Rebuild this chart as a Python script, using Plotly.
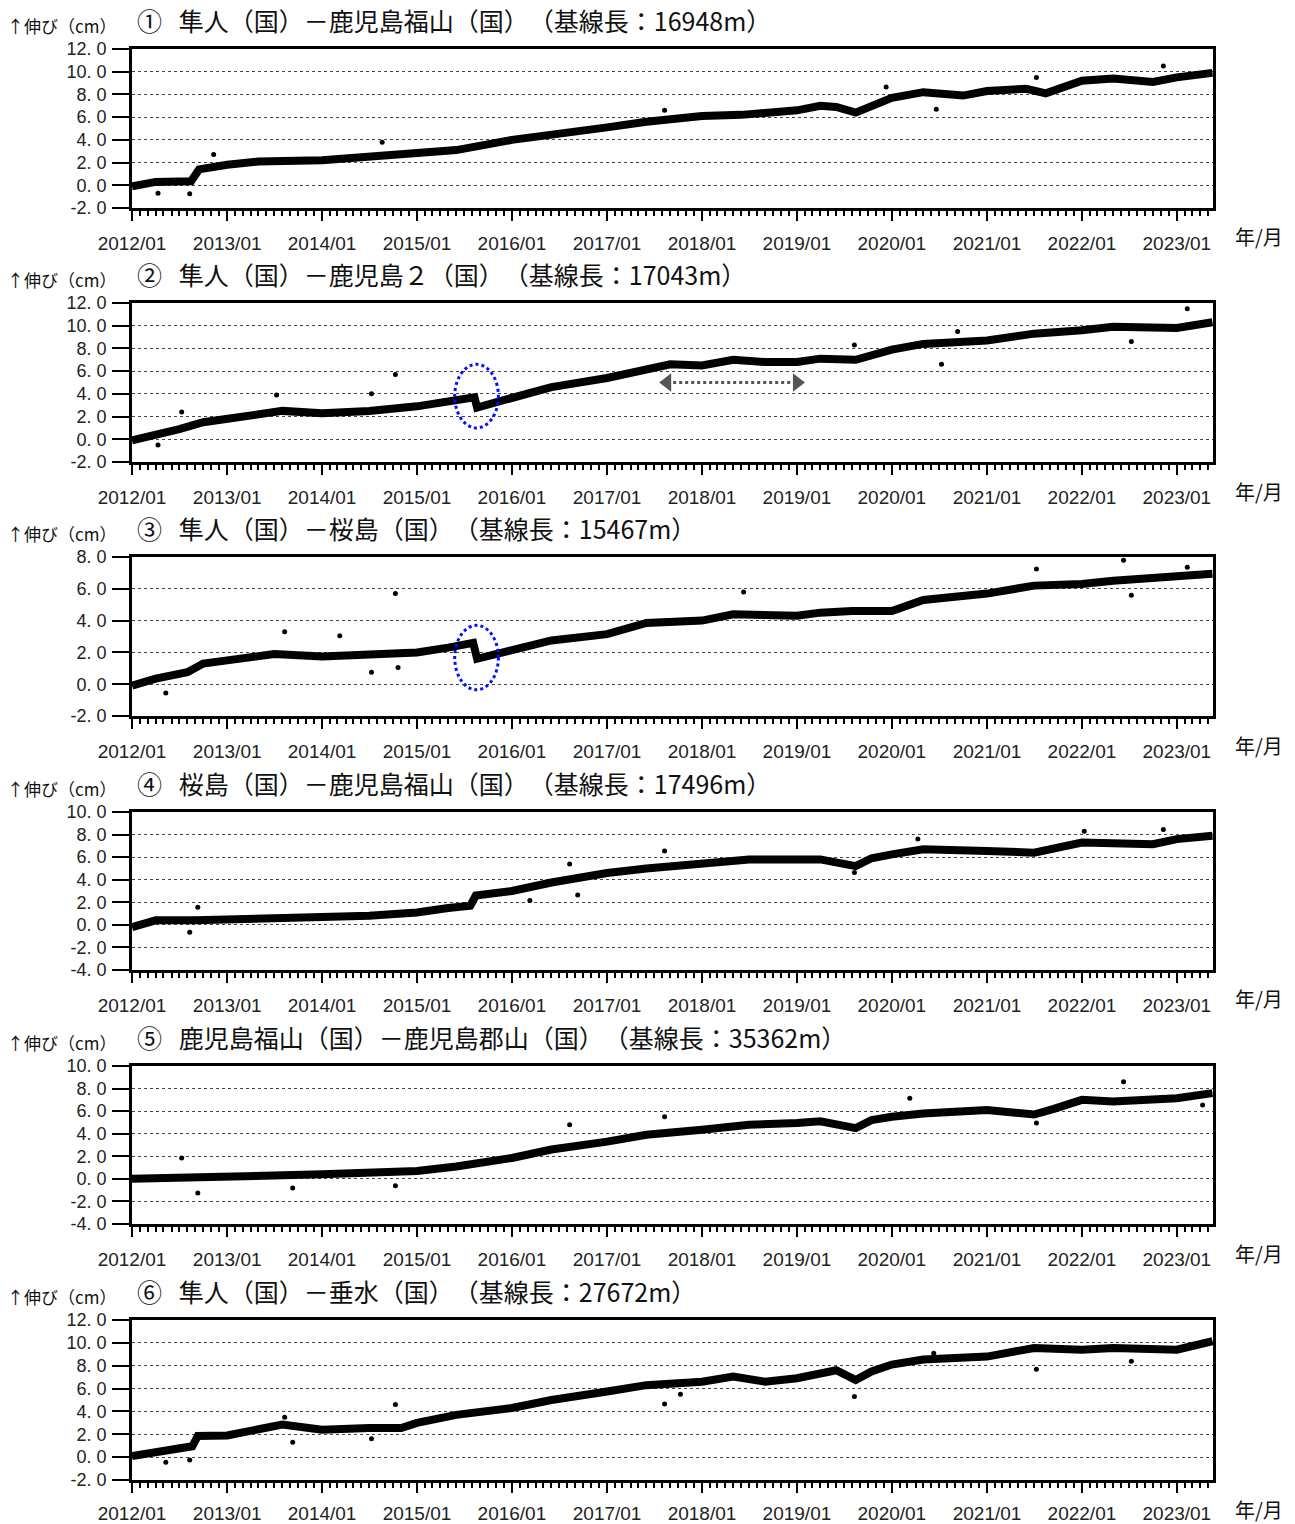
import plotly.graph_objects as go

W, H = 1295, 1524

# ---------------- data ----------------
titles = [
    "①   隼人（国）－鹿児島福山（国）　（基線長：16948m）",
    "②   隼人（国）－鹿児島２（国）　（基線長：17043m）",
    "③   隼人（国）－桜島（国）　（基線長：15467m）",
    "④   桜島（国）－鹿児島福山（国）　（基線長：17496m）",
    "⑤   鹿児島福山（国）－鹿児島郡山（国）　（基線長：35362m）",
    "⑥   隼人（国）－垂水（国）　（基線長：27672m）",
]
y_label = "↑伸び（cm）"
x_unit = "年/月"

x_tick_vals = ["%d-01-01" % y for y in range(2012, 2024)]
x_tick_text = ["%d/01" % y for y in range(2012, 2024)]
x_range = ["2012-01-01", "2023-05-20"]

y_ranges = [[-2, 12], [-2, 12], [-2, 8], [-4, 10], [-4, 10], [-2, 12]]
y_ticks_14 = [-2, 0, 2, 4, 6, 8, 10, 12]
y_ticks_10 = [-2, 0, 2, 4, 6, 8]
y_ticks_m4 = [-4, -2, 0, 2, 4, 6, 8, 10]
y_tick_sets = [y_ticks_14, y_ticks_14, y_ticks_10, y_ticks_m4, y_ticks_m4, y_ticks_14]

# series 1
d1 = ["2012-01-01", "2012-04-01", "2012-08-15", "2012-09-15", "2013-01-01", "2013-05-01",
      "2014-01-01", "2014-07-01", "2015-01-01", "2015-06-01", "2016-01-01", "2016-06-01",
      "2017-01-01", "2017-06-01", "2018-01-01", "2018-06-01", "2019-01-01", "2019-04-01",
      "2019-06-01", "2019-08-15", "2019-10-15", "2020-01-01", "2020-05-01", "2020-10-01",
      "2021-01-01", "2021-06-01", "2021-08-15", "2021-10-15", "2022-01-01", "2022-05-01",
      "2022-10-01", "2023-01-01", "2023-05-18"]
v1 = [-0.1, 0.3, 0.35, 1.4, 1.8, 2.1, 2.2, 2.5, 2.8, 3.1, 4.0, 4.4, 5.1, 5.6, 6.1, 6.2,
      6.6, 7.0, 6.9, 6.4, 7.0, 7.7, 8.2, 7.9, 8.3, 8.5, 8.1, 8.6, 9.2, 9.4, 9.1, 9.5, 9.9]
o1_d = ["2012-04-10", "2012-08-10", "2012-11-10", "2014-08-20", "2017-08-10", "2019-12-10",
        "2020-06-20", "2021-07-10", "2022-11-10"]
o1_v = [-0.7, -0.75, 2.7, 3.8, 6.6, 8.65, 6.7, 9.5, 10.5]

# series 2
d2 = ["2012-01-01", "2012-04-01", "2012-07-01", "2012-10-01", "2013-01-01", "2013-05-01",
      "2013-08-01", "2014-01-01", "2014-07-01", "2015-01-01", "2015-05-01", "2015-08-10",
      "2015-08-20", "2016-01-01", "2016-06-01", "2017-01-01", "2017-06-01", "2017-09-01",
      "2018-01-01", "2018-05-01", "2018-09-01", "2019-01-01", "2019-04-01", "2019-08-15",
      "2020-01-01", "2020-05-01", "2021-01-01", "2021-07-01", "2022-01-01", "2022-05-01",
      "2023-01-01", "2023-05-18"]
v2 = [-0.1, 0.35, 0.9, 1.5, 1.8, 2.2, 2.5, 2.3, 2.5, 2.9, 3.4, 3.7, 2.8, 3.6, 4.6, 5.4,
      6.1, 6.6, 6.5, 7.0, 6.8, 6.8, 7.1, 7.0, 7.9, 8.4, 8.7, 9.3, 9.6, 9.9, 9.8, 10.3]
o2_d = ["2012-04-10", "2012-07-10", "2013-07-10", "2014-07-10", "2014-10-10", "2019-08-10",
        "2020-07-10", "2020-09-10", "2022-07-10", "2023-02-10"]
o2_v = [-0.5, 2.4, 3.9, 4.0, 5.7, 8.3, 6.6, 9.5, 8.6, 11.5]

# series 3
d3 = ["2012-01-01", "2012-04-01", "2012-08-01", "2012-10-01", "2013-01-01", "2013-07-01",
      "2014-01-01", "2014-07-01", "2015-01-01", "2015-05-01", "2015-08-05", "2015-08-20",
      "2016-01-01", "2016-06-01", "2017-01-01", "2017-06-01", "2018-01-01", "2018-05-01",
      "2019-01-01", "2019-04-01", "2019-08-01", "2020-01-01", "2020-05-01", "2021-01-01",
      "2021-07-01", "2022-01-01", "2022-05-01", "2023-01-01", "2023-05-18"]
v3 = [-0.1, 0.35, 0.75, 1.3, 1.5, 1.9, 1.75, 1.9, 2.0, 2.3, 2.6, 1.6, 2.1, 2.75, 3.15,
      3.85, 4.0, 4.4, 4.3, 4.5, 4.6, 4.6, 5.3, 5.7, 6.2, 6.3, 6.5, 6.85, 6.95]
o3_d = ["2012-05-10", "2013-08-10", "2014-03-10", "2014-07-10", "2014-10-10", "2014-10-20",
        "2018-06-10", "2021-07-10", "2022-06-10", "2022-07-10", "2023-02-10"]
o3_v = [-0.55, 3.3, 3.05, 0.75, 5.7, 1.05, 5.8, 7.25, 7.8, 5.6, 7.35]

# series 4
d4 = ["2012-01-01", "2012-04-01", "2012-09-01", "2013-01-01", "2013-07-01", "2014-01-01",
      "2014-07-01", "2015-01-01", "2015-05-01", "2015-07-25", "2015-08-15", "2016-01-01",
      "2016-06-01", "2017-01-01", "2017-06-01", "2018-01-01", "2018-07-01", "2019-01-01",
      "2019-04-01", "2019-08-15", "2019-10-15", "2020-01-01", "2020-05-01", "2021-01-01",
      "2021-07-01", "2022-01-01", "2022-05-01", "2022-10-01", "2023-01-01", "2023-05-18"]
v4 = [-0.2, 0.4, 0.4, 0.5, 0.7, 0.7, 0.8, 1.1, 1.5, 1.7, 2.6, 3.0, 3.75, 4.6, 5.0, 5.45,
      5.8, 5.8, 5.8, 5.2, 5.9, 6.25, 6.7, 6.55, 6.4, 7.3, 7.3, 7.15, 7.6, 7.9]
o4_d = ["2012-08-10", "2012-09-10", "2016-03-10", "2016-08-10", "2016-09-10", "2017-08-10",
        "2019-08-10", "2020-04-10", "2022-01-10", "2022-11-10"]
o4_v = [-0.65, 1.55, 2.15, 5.4, 2.65, 6.55, 4.65, 7.6, 8.3, 8.45]

# series 5
d5 = ["2012-01-01", "2012-09-01", "2013-01-01", "2014-01-01", "2015-01-01", "2015-06-01",
      "2016-01-01", "2016-06-01", "2017-01-01", "2017-06-01", "2018-01-01", "2018-07-01",
      "2019-01-01", "2019-04-01", "2019-08-15", "2019-10-15", "2020-01-01", "2020-05-01",
      "2021-01-01", "2021-07-01", "2021-09-15", "2022-01-01", "2022-05-01", "2023-01-01",
      "2023-05-18"]
v5 = [0.0, 0.1, 0.25, 0.4, 0.7, 1.1, 1.85, 2.6, 3.3, 3.9, 4.35, 4.8, 4.95, 5.1, 4.5, 5.2,
      5.5, 5.8, 6.1, 5.7, 6.2, 7.0, 6.85, 7.15, 7.6]
o5_d = ["2012-07-10", "2012-09-10", "2013-09-10", "2014-10-10", "2016-08-10", "2017-08-10",
        "2020-03-10", "2021-07-10", "2022-06-10", "2023-04-10"]
o5_v = [1.85, -1.25, -0.8, -0.6, 4.8, 5.5, 7.15, 4.95, 8.6, 6.55]

# series 6
d6 = ["2012-01-01", "2012-04-01", "2012-08-20", "2012-09-10", "2013-01-01", "2013-08-01",
      "2014-01-01", "2014-07-01", "2014-11-01", "2015-01-01", "2015-06-01", "2016-01-01",
      "2016-06-01", "2017-01-01", "2017-06-01", "2018-01-01", "2018-05-01", "2018-09-01",
      "2019-01-01", "2019-06-01", "2019-08-15", "2019-10-15", "2020-01-01", "2020-05-01",
      "2021-01-01", "2021-07-01", "2022-01-01", "2022-05-01", "2023-01-01", "2023-05-18"]
v6 = [0.1, 0.5, 0.95, 1.85, 1.9, 2.85, 2.4, 2.55, 2.55, 3.0, 3.7, 4.3, 5.0, 5.75, 6.3, 6.6,
      7.05, 6.6, 6.9, 7.6, 6.75, 7.5, 8.1, 8.55, 8.8, 9.55, 9.4, 9.55, 9.4, 10.15]
o6_d = ["2012-05-10", "2012-08-10", "2013-08-10", "2013-09-10", "2014-07-10", "2014-10-10",
        "2017-08-10", "2017-10-10", "2019-08-10", "2020-06-10", "2021-07-10", "2022-07-10"]
o6_v = [-0.45, -0.25, 3.5, 1.3, 1.6, 4.6, 4.65, 5.5, 5.3, 9.1, 7.7, 8.4]

band_dates = [d1, d2, d3, d4, d5, d6]
band_vals = [v1, v2, v3, v4, v5, v6]
out_dates = [o1_d, o2_d, o3_d, o4_d, o5_d, o6_d]
out_vals = [o1_v, o2_v, o3_v, o4_v, o5_v, o6_v]

# annotation marks (panel 2 / 3)
ellipse2 = dict(x0="2015-05-26", x1="2015-11-10", y0=1.0, y1=6.6)
ellipse3 = dict(x0="2015-05-26", x1="2015-11-10", y0=-0.35, y1=3.7)
arrow2_x = ["2017-08-20", "2019-01-01"]
arrow2_y = [5.0, 5.0]

# ---------------- layout geometry (pixels) ----------------
panel_top = [49, 303, 557, 812, 1066, 1320]
panel_bot = [208, 462, 716, 970, 1224, 1480]
x_left, x_right = 132, 1213
FONT = "Noto Sans CJK JP"
TICKFONT = "Liberation Sans, Arial, sans-serif"

fig = go.Figure()
layout = dict(
    width=W, height=H, autosize=False,
    margin=dict(l=0, r=0, t=0, b=0, pad=0, autoexpand=False),
    paper_bgcolor="white", plot_bgcolor="white", showlegend=False,
    font=dict(family=FONT, color="black"),
)

annotations = []
shapes = []

for i in range(6):
    n = i + 1
    xa = "x" if n == 1 else "x%d" % n
    ya = "y" if n == 1 else "y%d" % n
    fig.add_trace(go.Scatter(
        x=band_dates[i], y=band_vals[i], mode="lines",
        line=dict(color="black", width=8), xaxis=xa, yaxis=ya, hoverinfo="skip"))
    fig.add_trace(go.Scatter(
        x=out_dates[i], y=out_vals[i], mode="markers",
        marker=dict(color="black", size=5), xaxis=xa, yaxis=ya, hoverinfo="skip"))

    ydom = [1 - panel_bot[i] / H, 1 - panel_top[i] / H]
    layout["xaxis" if n == 1 else "xaxis%d" % n] = dict(
        domain=[x_left / W, x_right / W], anchor=ya, type="date", range=x_range,
        tickmode="array", tickvals=x_tick_vals, ticktext=x_tick_text,
        ticks="outside", ticklen=10, tickwidth=2, tickcolor="black",
        minor=dict(dtick="M1", tick0="2012-01-01", ticks="outside", ticklen=5,
                   tickwidth=1.5, tickcolor="black", showgrid=False),
        showgrid=False, zeroline=False, showline=True, linewidth=2.5,
        linecolor="black", mirror=True,
        ticklabelstandoff=6 if n < 6 else 4, automargin=False,
        tickfont=dict(family=TICKFONT, size=19, color="#222"),
    )
    ticks = y_tick_sets[i]
    layout["yaxis" if n == 1 else "yaxis%d" % n] = dict(
        domain=ydom, anchor=xa, range=y_ranges[i],
        tickmode="array", tickvals=ticks,
        ticktext=[("%.1f" % t).replace(".", ". ") for t in ticks],
        ticks="outside", ticklen=17, tickwidth=2, tickcolor="black",
        showgrid=True, gridcolor="#444", gridwidth=1, griddash="dot",
        zeroline=False, showline=True, linewidth=2.5, linecolor="black",
        mirror=True, ticklabelstandoff=2, automargin=False,
        tickfont=dict(family=TICKFONT, size=18, color="#222"),
    )

    annotations.append(dict(
        text=titles[i], xref="paper", yref="paper", x=135 / W,
        y=1 - (panel_top[i] - 29) / H, xanchor="left", yanchor="middle",
        showarrow=False, font=dict(family=FONT, size=25, color="#111")))
    annotations.append(dict(
        text=y_label, xref="paper", yref="paper", x=5 / W,
        y=1 - (panel_top[i] - 24) / H, xanchor="left", yanchor="middle",
        showarrow=False, font=dict(family=FONT, size=17, color="#111")))
    annotations.append(dict(
        text=x_unit, xref="paper", yref="paper", x=1233 / W,
        y=1 - (panel_bot[i] + 29) / H, xanchor="left", yanchor="middle",
        showarrow=False, font=dict(family=FONT, size=20, color="#111")))

for ell, (xr, yr) in ((ellipse2, ("x2", "y2")), (ellipse3, ("x3", "y3"))):
    shapes.append(dict(type="circle", xref=xr, yref=yr, x0=ell["x0"], x1=ell["x1"],
                       y0=ell["y0"], y1=ell["y1"],
                       line=dict(color="#0010ff", width=3, dash="dot")))

fig.add_trace(go.Scatter(
    x=arrow2_x, y=arrow2_y, mode="lines+markers", xaxis="x2", yaxis="y2",
    line=dict(color="#555", width=3, dash="dot"),
    marker=dict(symbol=["triangle-left", "triangle-right"], size=16, color="#555"),
    hoverinfo="skip"))

layout["annotations"] = annotations
layout["shapes"] = shapes
fig.update_layout(**layout)
fig.write_html("out.html")
